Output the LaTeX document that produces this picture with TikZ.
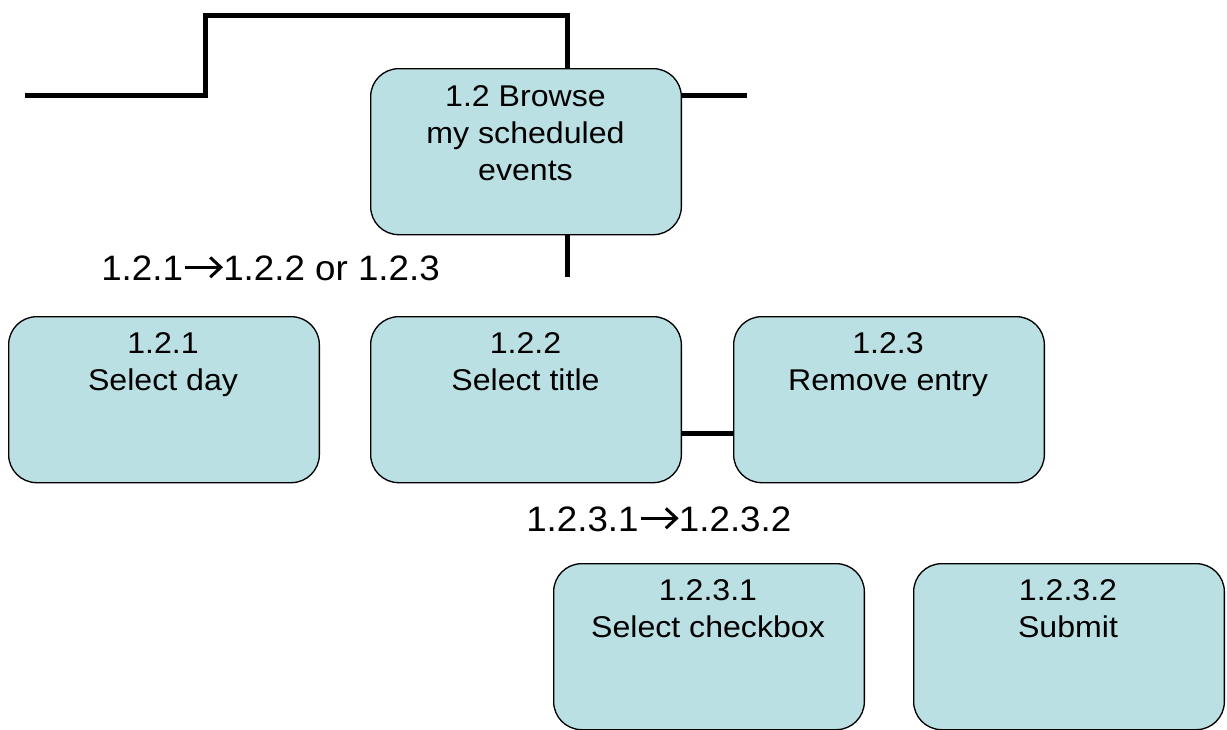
\documentclass[tikz,border=0pt]{standalone}
\usepackage{fontspec}
\setmainfont{Liberation Sans}
\newfontfamily\boxfont[FakeStretch=1.07]{Liberation Sans}
\newfontfamily\flowfont[FakeStretch=1.04]{Liberation Sans}
\definecolor{boxfill}{RGB}{187,224,227}
\newcommand{\wdarrow}{\tikz[baseline=0pt, x=1em, y=1em, line width=0.085em]{%
  \path (0,0) rectangle (1.14,0.7);
  \draw (0.07,0.36) -- (1.03,0.36);
  \draw[line join=miter] (0.77,0.64) -- (1.07,0.36) -- (0.77,0.08);}}
\begin{document}
\begin{tikzpicture}[x=0.75pt,y=-0.75pt,
  taskbox/.style={draw=black, line width=1pt, fill=boxfill, rounded corners=21pt,
    minimum width=233pt, minimum height=124.5pt, inner sep=0pt, anchor=north west},
  boxtext/.style={font=\boxfont\fontsize{22.5}{28}\selectfont, align=center, anchor=north, inner sep=0pt},
  link/.style={line width=3.75pt},
  flow/.style={font=\flowfont\fontsize{26.5}{32}\selectfont, inner sep=0pt, anchor=base west}]
\useasboundingbox (0,0) rectangle (1227,729);

% boxes
\node[taskbox] (b12)   at (370,68) {};
\node[taskbox] (b121)  at (8,316) {};
\node[taskbox] (b122)  at (370,316) {};
\node[taskbox] (b123)  at (733,316) {};
\node[taskbox] (b1231) at (553,563) {};
\node[taskbox] (b1232) at (913,563) {};

% box texts
\node[boxtext] (t12)   at (525.5,85) {1.2 Browse\\my scheduled\\events};
\node[boxtext] (t121)  at (163,332) {1.2.1\\Select day};
\node[boxtext] (t122)  at (525.5,332) {1.2.2\\Select title};
\node[boxtext] (t123)  at (888,332) {1.2.3\\Remove entry};
\node[boxtext] (t1231) at (708,579) {1.2.3.1\\Select checkbox};
\node[boxtext] (t1232) at (1068,579) {1.2.3.2\\Submit};

% flow texts
\node[flow] (f1) at (101,280) {1.2.1\wdarrow1.2.2 or 1.2.3};
\node[flow] (f2) at (526,531) {1.2.3.1\wdarrow1.2.3.2};

% connectors
\coordinate (topleft) at (25,95);
\coordinate (stepup) at (205,15);
\coordinate (topin) at (567,15);
\coordinate (rightend) at (747,95);
\coordinate (downend) at (567,277);
\draw[link] (topleft) -| (stepup) -| (topin |- b12.north);
\draw[link] (b12.north east |- rightend) -- (rightend);
\draw[link] (downend |- b12.south) -- (downend);
\draw[link] ([yshift=-25pt]b122.east) -- ([yshift=-25pt]b123.west);
\end{tikzpicture}
\end{document}
